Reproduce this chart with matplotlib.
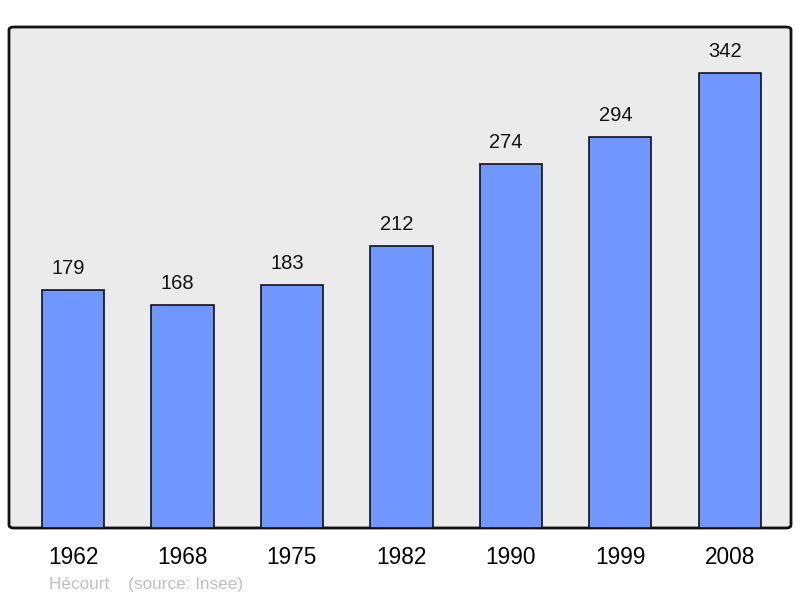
import matplotlib.pyplot as plt
from matplotlib.patches import FancyBboxPatch

years = ['1962', '1968', '1975', '1982', '1990', '1999', '2008']
population = [179, 168, 183, 212, 274, 294, 342]

plt.rcParams['font.family'] = ['Liberation Sans', 'DejaVu Sans']

fig = plt.figure(figsize=(8, 5.98), dpi=100)
W, H = 800, 598
ax = fig.add_axes([9 / W, 1 - 528 / H, 782 / W, 501 / H])
ax.set_facecolor('none')
ax.set_xlim(-0.585, 6.56)
ax.set_ylim(0, 376.7)

# rounded panel
panel = FancyBboxPatch((0, 0), 1, 1, boxstyle='round,pad=0,rounding_size=0.006',
                       transform=ax.transAxes, facecolor='#ebebeb',
                       edgecolor='#111111', linewidth=2, zorder=0, clip_on=False)
ax.add_patch(panel)

x = range(len(years))
bars = ax.bar(x, population, width=0.57, color='#7096ff', edgecolor='#111111',
              linewidth=1.2, zorder=2)
for xi, v in zip(x, population):
    ax.text(xi - 0.045, v + 9, str(v), ha='center', va='bottom', fontsize=14.5, color='#111111')

for s in ax.spines.values():
    s.set_visible(False)
ax.set_yticks([])
ax.set_xticks(list(x))
ax.set_xticklabels(years, fontsize=16.3)
ax.tick_params(axis='x', length=0, pad=13)

fig.text(49 / W, 1 - 584 / H, 'Hécourt    (source: Insee)', fontsize=12.3,
         color='#c0c0c0', va='center', ha='left')

fig.savefig('out.png', dpi=100)
